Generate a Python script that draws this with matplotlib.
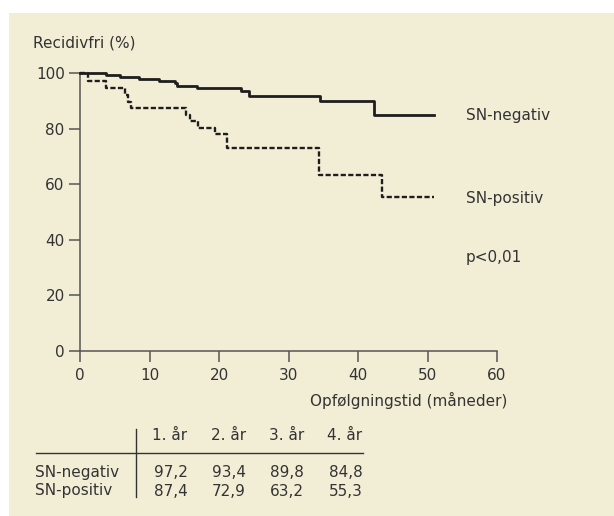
import numpy as np
import matplotlib
matplotlib.use('Agg')
import matplotlib.pyplot as plt
from matplotlib.lines import Line2D
from matplotlib.patches import Rectangle

# Kaplan-Meier curves (months, % recurrence free)
neg_time = [0, 3.7, 5.8, 8.5, 11.4, 13.6, 13.9, 16.8, 23.2, 24.3, 34.5, 42.3, 50.9]
neg_surv = [100, 99.4, 98.6, 97.9, 97.2, 96.3, 95.5, 94.5, 93.4, 91.7, 89.8, 84.8, 84.8]
pos_time = [0, 1.2, 3.7, 6.5, 6.9, 7.3, 15.3, 15.8, 17.0, 19.4, 21.2, 34.4, 43.4, 50.9]
pos_surv = [100, 97.3, 94.5, 92.0, 89.6, 87.4, 85.0, 82.7, 80.3, 78.0, 72.9, 63.2, 55.3, 55.3]

# table under the chart
years = ['1. år', '2. år', '3. år', '4. år']
row_names = ['SN-negativ', 'SN-positiv']
neg_year = ['97,2', '93,4', '89,8', '84,8']
pos_year = ['87,4', '72,9', '63,2', '55,3']

W, H = 614, 516
bg = '#f2eed6'
txt = '#333333'
axc = '#555555'

def fx(px):
    return px / W

def fy(py):
    return 1 - py / H

fig = plt.figure(figsize=(W / 100, H / 100), dpi=100)
fig.patch.set_facecolor('white')
fig.add_artist(Rectangle((fx(9), 0), 1 - fx(9), fy(13), transform=fig.transFigure,
                         facecolor=bg, edgecolor='none', zorder=-10))

ax = fig.add_axes([fx(80), fy(351), fx(497) - fx(80), fy(73) - fy(351)])
ax.set_facecolor('none')

ax.step(neg_time, neg_surv, where='post', color='#1e1e1e', lw=2.0, clip_on=False, zorder=4)
ax.step(pos_time, pos_surv, where='post', color='#1e1e1e', lw=1.7,
        linestyle=(0, (2.2, 1.0)), clip_on=False, zorder=3)

ax.set_xlim(0, 60)
ax.set_ylim(0, 100)
ax.set_xticks(range(0, 61, 10))
ax.set_yticks(range(0, 101, 20))
for s in ['top', 'right']:
    ax.spines[s].set_visible(False)
for s in ['left', 'bottom']:
    ax.spines[s].set_color(axc)
    ax.spines[s].set_linewidth(1.1)
ax.tick_params(axis='both', direction='out', length=8, width=1.1, color=axc,
               labelsize=11, labelcolor=txt)
ax.tick_params(axis='y', pad=3)
ax.tick_params(axis='x', pad=4)

ax.text(55.5, 84.8, 'SN-negativ', fontsize=11, color=txt, va='center', clip_on=False)
ax.text(55.5, 54.8, 'SN-positiv', fontsize=11, color=txt, va='center', clip_on=False)
ax.text(55.5, 33.8, 'p<0,01', fontsize=11, color=txt, va='center', clip_on=False)

fig.text(fx(33), fy(43), 'Recidivfri (%)', fontsize=11, color=txt, va='center')
fig.text(fx(507), fy(400), 'Opfølgningstid (måneder)', fontsize=11, color=txt,
         va='center', ha='right')

# table
col_x = [187.5, 246, 304, 362.5]
for x, yr, a, b in zip(col_x, years, neg_year, pos_year):
    fig.text(fx(x), fy(435), yr, fontsize=11, color=txt, ha='right', va='center')
    fig.text(fx(x), fy(472.5), a, fontsize=11, color=txt, ha='right', va='center')
    fig.text(fx(x), fy(491), b, fontsize=11, color=txt, ha='right', va='center')
fig.text(fx(35), fy(472.5), row_names[0], fontsize=11, color=txt, va='center')
fig.text(fx(35), fy(491), row_names[1], fontsize=11, color=txt, va='center')
fig.add_artist(Line2D([fx(35.5), fx(362.5)], [fy(452.7), fy(452.7)],
                      transform=fig.transFigure, color=txt, lw=1.0))
fig.add_artist(Line2D([fx(136), fx(136)], [fy(429), fy(497)],
                      transform=fig.transFigure, color=txt, lw=1.0))

fig.savefig('out.png', dpi=100, facecolor=fig.get_facecolor())
